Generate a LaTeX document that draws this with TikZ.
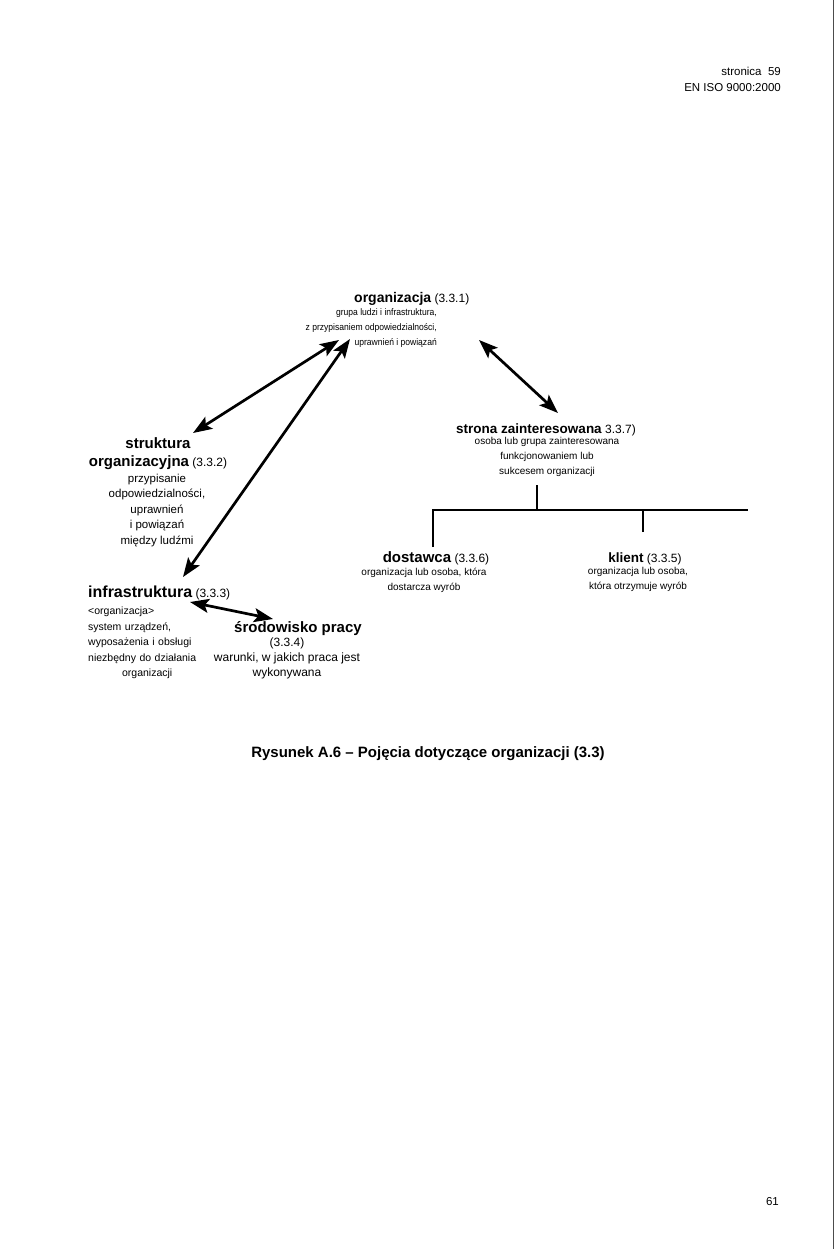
\documentclass[tikz,border=0pt]{standalone}
\usepackage{fontspec}
\setmainfont{Liberation Sans}
\newfontfamily\narrowsans[FakeStretch=0.9]{Liberation Sans}
\usetikzlibrary{arrows.meta,positioning}
\tikzset{
    termhead/.style={inner sep=0pt,font=\fontsize{15}{18}\selectfont\bfseries,align=center},
    termtext/.style={inner sep=0pt,font=\fontsize{10}{15}\selectfont,align=center},
    pagetext/.style={inner sep=0pt,font=\fontsize{11.5}{16}\selectfont,align=right},
    figcaption/.style={inner sep=0pt,font=\fontsize{15}{18}\selectfont\bfseries},
    relarrow/.style={{Stealth[length=19pt,width=14pt,inset=4pt]}-{Stealth[length=19pt,width=14pt,inset=4pt]},line width=2.7pt},
    treeline/.style={line width=2.7pt}
}
\newcommand{\termno}[1]{{\fontsize{12}{15}\selectfont\mdseries\ #1}}

\begin{document}
\begin{tikzpicture}[x=1pt,y=-1pt]
    \useasboundingbox (0,0) rectangle (835,1249);
    \draw[line width=0.8pt,black!70] (833,0) -- (833,1249);
    % naglowek i numer strony
    \node[pagetext,anchor=north east] (pagehead) at (781,67) {stronica\ \ 59\\EN ISO 9000:2000};
    \node[pagetext,anchor=base east] (pageno) at (779,1205) {61};
    % pojecia
    \node[termhead,anchor=base west,font=\fontsize{14}{18}\selectfont\bfseries] (orghead) at (354,302) {organizacja\termno{(3.3.1)}};
    \node[termtext,anchor=north east,align=right,font=\narrowsans\fontsize{9.5}{15}\selectfont] (orgtext) at (437,308.5) {grupa ludzi i infrastruktura,\\z przypisaniem odpowiedzialności,\\uprawnień i powiązań};
    \node[termhead,anchor=north] (structhead) at (158,437) {struktura\\organizacyjna\termno{(3.3.2)}};
    \node[termtext,anchor=north,font=\fontsize{11.5}{15.5}\selectfont] (structtext) at (157,473.5) {przypisanie\\odpowiedzialności,\\uprawnień\\i powiązań\\między ludźmi};
    \node[termhead,anchor=base west,font=\fontsize{16}{18}\selectfont\bfseries] (infrahead) at (88,597) {infrastruktura\termno{(3.3.3)}};
    \node[termtext,anchor=north west,align=left,text width=118pt,font=\fontsize{10.5}{15.5}\selectfont] (infratext) at (88,607) {<organizacja>\\system urządzeń,\\wyposażenia i obsługi\\niezbędny do działania\\\makebox[\linewidth]{organizacji}};
    \node[termhead,anchor=base] (envhead) at (298,632) {środowisko pracy};
    \node[termtext,anchor=north,font=\fontsize{12}{15}\selectfont] (envtext) at (287,637.5) {(3.3.4)\\warunki, w jakich praca jest\\wykonywana};
    \node[termhead,anchor=base,font=\fontsize{13.5}{18}\selectfont\bfseries] (partyhead) at (546,433) {strona zainteresowana\termno{3.3.7)}};
    \node[termtext,anchor=north] (partytext) at (547,437.5) {osoba lub grupa zainteresowana\\funkcjonowaniem lub\\sukcesem organizacji};
    \node[termhead,anchor=base] (supplierhead) at (436,562) {dostawca\termno{(3.3.6)}};
    \node[termtext,anchor=north] (suppliertext) at (424,567.5) {organizacja lub osoba, która\\dostarcza wyrób};
    \node[termhead,anchor=base,font=\fontsize{13.5}{18}\selectfont\bfseries] (customerhead) at (645,562) {klient\termno{(3.3.5)}};
    \node[termtext,anchor=north] (customertext) at (638,567.5) {organizacja lub osoba,\\która otrzymuje wyrób};
    \node[figcaption,anchor=base] (caption) at (428,757) {Rysunek A.6 -- Pojęcia dotyczące organizacji (3.3)};
    % powiazania
    \draw[relarrow] ([shift={(35,-4)}]structhead.north) -- ([shift={(-15,38)}]orghead.base west);
    \draw[relarrow] ([shift={(95,-20)}]infrahead.base west) -- ([shift={(-4,37)}]orghead.base west);
    \draw[relarrow] ([shift={(125,38)}]orghead.base west) -- ([shift={(12,-20)}]partyhead.base);
    \draw[relarrow] ([shift={(102,5)}]infrahead.base west) -- ([shift={(-25,-13)}]envhead.base);
    % rozgalezienie
    \coordinate (partyfoot) at ([shift={(-9,52)}]partyhead.base);
    \coordinate (branch) at ([shift={(-9,77)}]partyhead.base);
    \coordinate (treeend) at ([xshift=211pt]branch);
    \coordinate (customerdrop) at ([shift={(-2,-30)}]customerhead.base);
    \draw[treeline] (partyfoot) -- (branch);
    \draw[treeline] ([shift={(-3,-15)}]supplierhead.base) |- (treeend);
    \draw[treeline] (customerdrop) -- (customerdrop |- branch);
\end{tikzpicture}
\end{document}
